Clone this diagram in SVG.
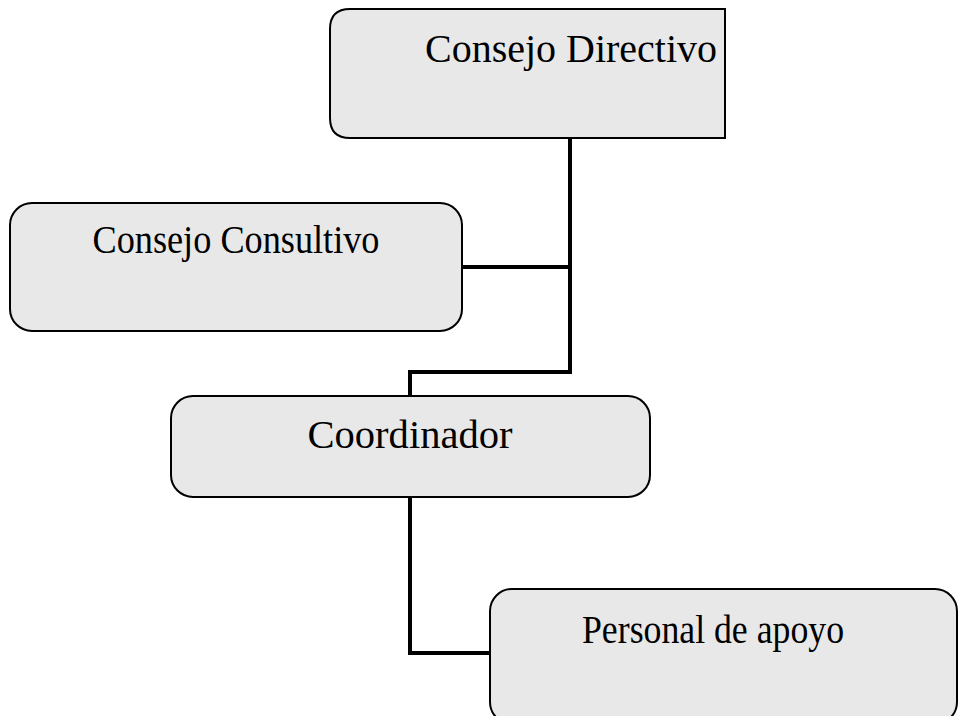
<svg xmlns="http://www.w3.org/2000/svg" width="959" height="716" viewBox="0 0 959 716">
<style>
.box{fill:#e8e8e8;stroke:#000;stroke-width:2}
.lbl{font-family:"Liberation Serif","DejaVu Serif",serif;font-size:40px;fill:#000;text-anchor:middle}
.conn{fill:none;stroke:#000;stroke-width:4}
</style>
<rect width="959" height="716" fill="#fff"/>
<g id="connectors">
<path class="conn" d="M570 138 V372 H410 V396"/>
<path class="conn" d="M462 267 H570"/>
<path class="conn" d="M410 497 V653 H490"/>
</g>
<g id="consejo-directivo">
<path class="box" d="M350 9 H725 V138 H350 Q330 138 330 118 V29 Q330 9 350 9 Z"/>
<text class="lbl" x="571" y="62" textLength="292" lengthAdjust="spacingAndGlyphs">Consejo Directivo</text>
</g>
<g id="consejo-consultivo">
<rect class="box" x="10" y="203" width="452" height="128" rx="22"/>
<text class="lbl" x="236" y="253" textLength="287" lengthAdjust="spacingAndGlyphs">Consejo Consultivo</text>
</g>
<g id="coordinador">
<rect class="box" x="171" y="396" width="479" height="101" rx="22"/>
<text class="lbl" x="410" y="448" textLength="205" lengthAdjust="spacingAndGlyphs">Coordinador</text>
</g>
<g id="personal-de-apoyo">
<rect class="box" x="490" y="589" width="467" height="135" rx="22"/>
<text class="lbl" x="713" y="643" textLength="262" lengthAdjust="spacingAndGlyphs">Personal de apoyo</text>
</g>
</svg>
